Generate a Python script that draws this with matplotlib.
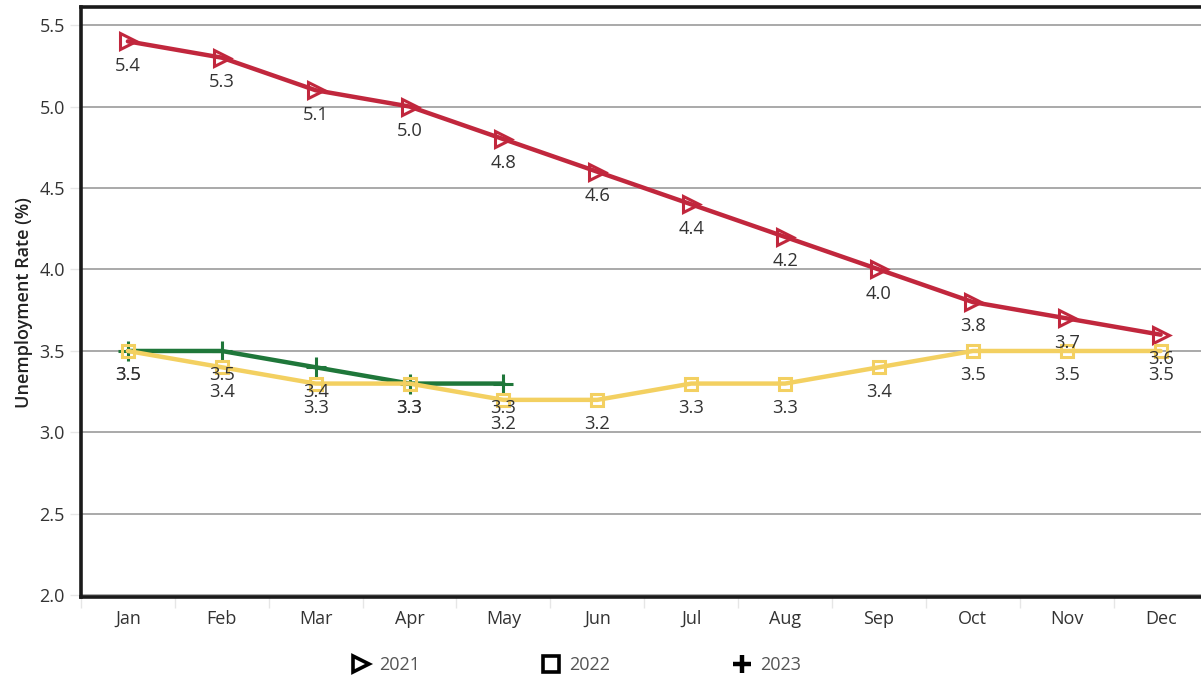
import matplotlib.pyplot as plt
from matplotlib.lines import Line2D
from matplotlib.ticker import FixedLocator

plt.rcParams['font.family'] = ['Open Sans', 'DejaVu Sans']

months = ['Jan', 'Feb', 'Mar', 'Apr', 'May', 'Jun',
          'Jul', 'Aug', 'Sep', 'Oct', 'Nov', 'Dec']
rate_2021 = [5.4, 5.3, 5.1, 5.0, 4.8, 4.6, 4.4, 4.2, 4.0, 3.8, 3.7, 3.6]
rate_2022 = [3.5, 3.4, 3.3, 3.3, 3.2, 3.2, 3.3, 3.3, 3.4, 3.5, 3.5, 3.5]
rate_2023 = [3.5, 3.5, 3.4, 3.3, 3.3]
yticks = [2.0, 2.5, 3.0, 3.5, 4.0, 4.5, 5.0, 5.5]

series = [
    ('2021', rate_2021, '#c1273d', '>', 11),
    ('2023', rate_2023, '#1f773a', '+', 14),
    ('2022', rate_2022, '#f3d061', 's', 9),
]

fig = plt.figure(figsize=(12.01, 6.8), dpi=100)
ax = fig.add_axes([0.0674, 0.122, 0.9326, 0.8675])

for name, vals, color, marker, ms in series:
    x = list(range(len(vals)))
    ax.plot(x, vals, color=color, lw=3.2, marker=marker, ms=ms,
            mfc='none', mec=color, mew=2.2, zorder=3, solid_capstyle='round')
    for xi, v in zip(x, vals):
        ax.annotate('{0:.1f}'.format(v), (xi, v), xytext=(0, -17.5),
                    textcoords='offset points', ha='center', va='center',
                    fontsize=13.2, color='#333333', zorder=4)

ax.set_xlim(-0.5, 11.43)
ax.set_ylim(1.99, 5.61)
ax.set_xticks(range(len(months)))
ax.set_xticklabels(months)
ax.xaxis.set_minor_locator(FixedLocator([i + 0.5 for i in range(-1, 11)]))
ax.tick_params(axis='x', which='major', length=0, pad=9, labelsize=13,
               labelcolor='#333333')
ax.tick_params(axis='x', which='minor', length=8, color='#e6e6e6', width=1)
ax.set_yticks(yticks)
ax.set_yticklabels(['{0:.1f}'.format(t) for t in yticks])
ax.tick_params(axis='y', length=8, color='#e6e6e6', width=1, labelsize=13,
               labelcolor='#333333')
ax.yaxis.grid(True, color='#a3a3a3', lw=1.3)
ax.set_axisbelow(True)
ax.set_ylabel('Unemployment Rate (%)', fontsize=13, fontweight='semibold',
              color='#222222', labelpad=5)

for side in ['left', 'bottom', 'top']:
    ax.spines[side].set_linewidth(2.6)
    ax.spines[side].set_color('#1a1a1a')
ax.spines['right'].set_visible(False)

handles = [
    Line2D([], [], ls='none', marker='>', ms=11, mfc='none', mec='black', mew=2.6),
    Line2D([], [], ls='none', marker='s', ms=11, mfc='none', mec='black', mew=2.6),
    Line2D([], [], ls='none', marker='+', ms=13, mec='black', mew=3.2),
]
leg = fig.legend(handles, ['2021', '2022', '2023'], loc='center',
                 bbox_to_anchor=(0.48, 0.022), ncol=3, frameon=False,
                 fontsize=13, handlelength=1.0, handletextpad=0.5,
                 columnspacing=6.8)
for t in leg.get_texts():
    t.set_color('#555555')

fig.savefig('out.png', dpi=100)
